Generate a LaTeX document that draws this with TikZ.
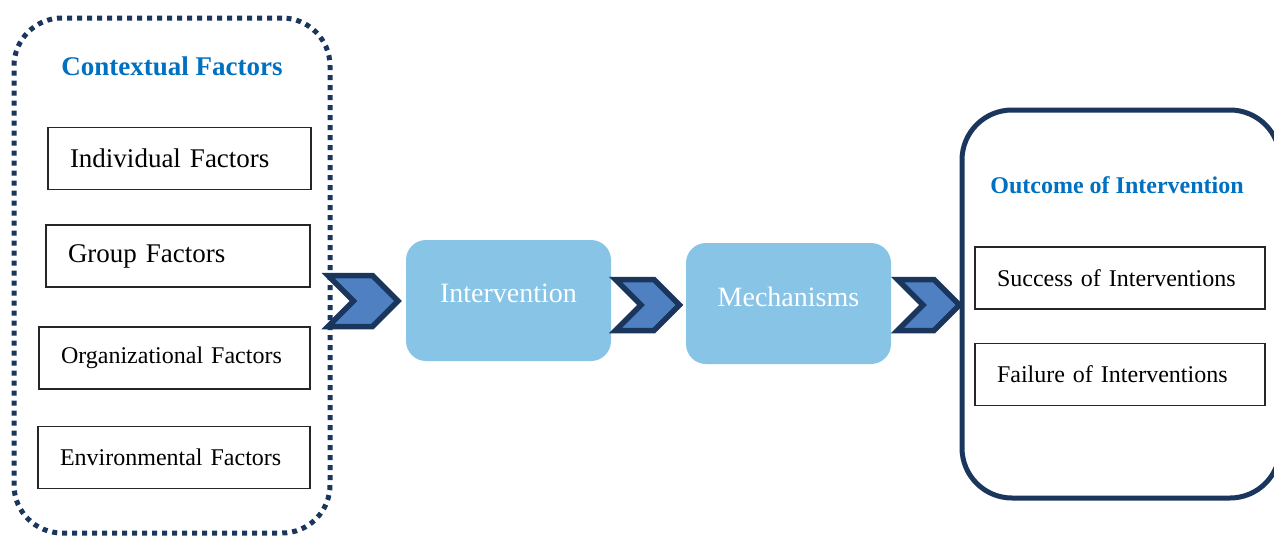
\documentclass[tikz,border=0pt]{standalone}
\usepackage{fontspec}
\setmainfont{Liberation Serif}
\usetikzlibrary{positioning, shapes.symbols}
\definecolor{navy}{HTML}{1B365D}
\definecolor{chevblue}{HTML}{4F81C2}
\definecolor{boxblue}{HTML}{87C4E6}
\definecolor{titleblue}{HTML}{0070C0}
\newcommand{\fsz}[1]{\fontsize{#1}{#1}\selectfont}

\tikzset{
  dotframe/.style={draw=navy, line width=5pt, dash pattern=on 5pt off 5pt, rounded corners=48pt, minimum width=316pt, minimum height=515pt},
  solidframe/.style={draw=navy, line width=5pt, rounded corners=50pt, minimum width=318pt, minimum height=388pt},
  heading/.style={text=titleblue, font=\bfseries\fsz{#1}},
  factorbox/.style={draw=black!85, line width=1.8pt, minimum height=62pt, inner xsep=22pt, align=left, text width=#1},
  stepbox/.style={fill=boxblue, rounded corners=20pt, minimum width=205pt, minimum height=121pt, text=white, font=\fsz{28}, text depth=14pt},
  chevron/.style={signal, signal to=east, signal from=west, draw=navy, fill=chevblue, line width=5.5pt, inner sep=0pt, minimum width=#1, minimum height=51pt}
}

\begin{document}
\begin{tikzpicture}[x=1pt, y=-1pt]
        \useasboundingbox (0,0) rectangle (1274,536);
        % context column
        \node[dotframe] (ctx) at (172,275.5) {};
        \node[heading=27] (ctxtitle) at (172,66) {Contextual Factors};
        \node[factorbox=219pt, font=\fsz{27}] (indiv) at (179.5,158.5) {Individual Factors};
        \node[factorbox=220pt, font=\fsz{27}] (group) at (178,256) {Group Factors};
        \node[factorbox=227pt, font=\fsz{24}] (org) at (174.5,358) {Organizational Factors};
        \node[factorbox=228pt, font=\fsz{24}] (env) at (174,457.5) {Environmental Factors};
        % chain
        \node[chevron=70pt] (chev1) at (363,301) {};
        \node[stepbox] (interv) at (508.5,300.5) {Intervention};
        \node[chevron=64pt] (chev2) at (647.5,305) {};
        \node[stepbox] (mech) at (788.5,303.5) {Mechanisms};
        \node[chevron=62pt] (chev3) at (928.5,305) {};
        % outcome column
        \node[solidframe] (outcome) at (1121,304) {};
        \node[heading=24] (outtitle) at (1117,185) {Outcome of Intervention};
        \node[factorbox=246pt, font=\fsz{24}] (success) at (1120,278) {Success of Interventions};
        \node[factorbox=246pt, font=\fsz{24}] (failure) at (1120,374.5) {Failure of Interventions};
    \end{tikzpicture}
\end{document}
